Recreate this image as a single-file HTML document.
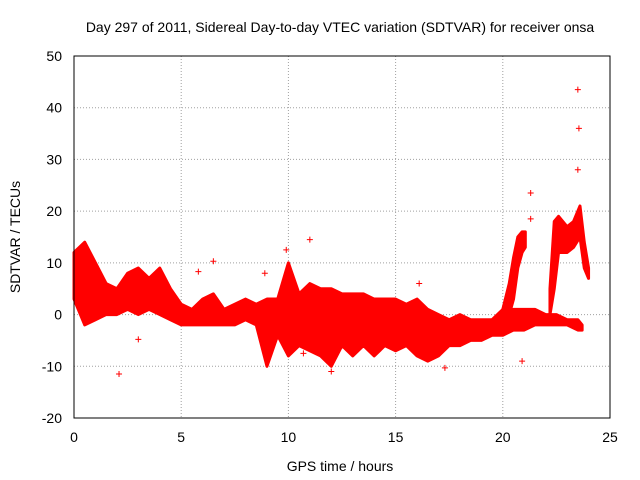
<!DOCTYPE html>
<html><head><meta charset="utf-8"><style>
body{margin:0;background:#fff;}
svg{display:block;font-family:"Liberation Sans",sans-serif;}
</style></head><body>
<svg id="chart" width="640" height="480">
<text x="340" y="32" font-size="14" text-anchor="middle">Day 297 of 2011, Sidereal Day-to-day VTEC variation (SDTVAR) for receiver onsa</text>
<text x="340" y="471" font-size="14" text-anchor="middle">GPS time / hours</text>
<text transform="translate(20,237) rotate(-90)" font-size="14" text-anchor="middle">SDTVAR / TECUs</text>
<g id="grid"></g><g id="data"></g>
<rect x="74" y="56" width="536" height="362" fill="none" stroke="#000"/>
</svg>
<script>
const xTicks=[0,5,10,15,20,25];
const yTicks=[-20,-10,0,10,20,30,40,50];
const mainT=[0,0.5,1,1.5,2,2.5,3,3.5,4,4.5,5,5.5,6,6.5,7,7.5,8,8.5,9,9.5,10,10.5,11,11.5,12,12.5,13,13.5,14,14.5,15,15.5,16,16.5,17,17.5,18,18.5,19,19.5,20,20.5,21,21.5,22,22.5,23,23.5,23.7];
const mainLo=[3,-2,-1,0,0,1,0,1,0,-1,-2,-2,-2,-2,-2,-2,-1,-2,-10,-4,-8,-6,-7,-8,-10,-6,-8,-6,-8,-6,-7,-6,-8,-9,-8,-6,-6,-5,-5,-4,-4,-3,-3,-2,-2,-2,-2,-3,-3];
const mainHi=[12,14,10,6,5,8,9,7,9,5,2,1,3,4,1,2,3,2,3,3,10,4,6,5,5,4,4,4,3,3,3,2,3,1,0,-1,0,-1,-1,-1,1,1,1,1,0,0,-1,-1,-2];
const hump1T=[20.0,20.3,20.5,20.7,20.9,21.05];
const hump1Lo=[-1,0,3,9,12,13];
const hump1Hi=[1,6,11,15,16,16];
const hump2T=[22.2,22.4,22.6,23,23.3,23.6,23.8,24];
const hump2Lo=[0,5,12,12,13,15,9,7];
const hump2Hi=[5,18,19,17,18,21,14,9];
const outT=[2.1,3,5.8,6.5,8.9,9.9,10.7,11,12,16.1,17.3,20.9,21.3,21.3,23.5,23.55,23.5];
const outV=[-11.5,-4.8,8.3,10.3,8,12.5,-7.5,14.5,-11,6,-10.3,-9,23.5,18.5,43.5,36,28];
const X=h=>74+h*536/25, Y=v=>418-(v+20)*362/70;
const NS="http://www.w3.org/2000/svg";
const grid=document.getElementById('grid'), data=document.getElementById('data');
function mk(tag,attrs,parent){const e=document.createElementNS(NS,tag);for(const k in attrs)e.setAttribute(k,attrs[k]);parent.appendChild(e);return e;}
xTicks.forEach(t=>{
 const l=mk('line',{x1:X(t),x2:X(t),y1:56,y2:418,stroke:'#a0a0a0','stroke-dasharray':'1,2'},grid);
 
 
 const tx=mk('text',{x:X(t),y:442,'font-size':14,'text-anchor':'middle'},grid);tx.textContent=t;
 
 
});
yTicks.forEach(t=>{
 const l=mk('line',{x1:74,x2:610,y1:Y(t),y2:Y(t),stroke:'#a0a0a0','stroke-dasharray':'1,2'},grid);
 
 
 const tx=mk('text',{x:62,y:Y(t)+5,'font-size':14,'text-anchor':'end'},grid);tx.textContent=t;
 
 
});
function band(T,L,H,name){
 let pts=T.map((t,i)=>X(t)+','+Y(H[i]));
 for(let i=T.length-1;i>=0;i--)pts.push(X(T[i])+','+Y(L[i]));
 const p=mk('polygon',{points:pts.join(' '),fill:'#ff0000',stroke:'#ff0000','stroke-width':3,'stroke-linejoin':'round'},data);
 
 
}
band(mainT,mainLo,mainHi,'sdtvar-main-band');
band(hump1T,hump1Lo,hump1Hi,'sdtvar-hump-21h');
band(hump2T,hump2Lo,hump2Hi,'sdtvar-hump-23h');
outT.forEach((t,i)=>{
 const x=X(t),y=Y(outV[i]);
 const p=mk('path',{d:`M${x-3},${y}H${x+3}M${x},${y-3}V${y+3}`,stroke:'#ff0000','stroke-width':1},data);
 
 
});
</script>
</body></html>
